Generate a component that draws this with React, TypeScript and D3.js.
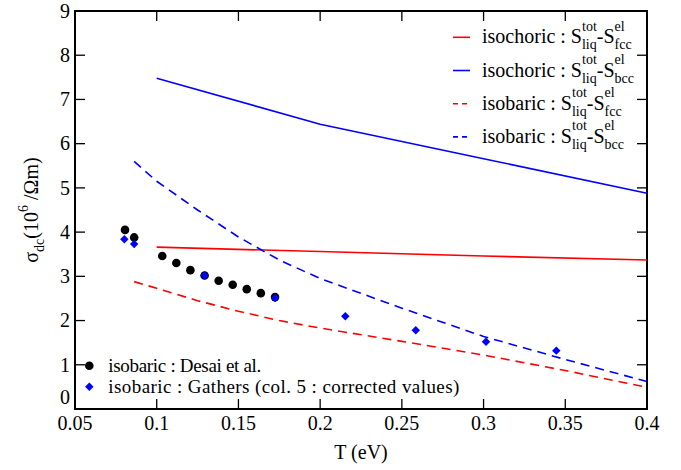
import React from 'react';
import * as d3 from 'd3';

// conductivity vs temperature
const tempDesai = [0.0806, 0.0862, 0.1034, 0.112, 0.1206, 0.1293, 0.1379, 0.1465, 0.1551, 0.1637, 0.1724];
const sigmaDesai = [4.05, 3.88, 3.46, 3.3, 3.14, 3.02, 2.9, 2.81, 2.71, 2.62, 2.53];

const tempGathers = [0.0802, 0.0862, 0.1293, 0.1724, 0.2154, 0.2585, 0.3015, 0.3445];
const sigmaGathers = [3.84, 3.73, 3.02, 2.51, 2.1, 1.78, 1.52, 1.32];

const tempIsochoric = [0.1, 0.2, 0.3, 0.4];
const sigmaIsochoricFcc = [3.66, 3.56, 3.46, 3.37];
const sigmaIsochoricBcc = [7.48, 6.44, 5.66, 4.88];

const tempIsobaric = [0.0862, 0.1, 0.125, 0.15, 0.175, 0.2, 0.25, 0.3, 0.35, 0.4];
const sigmaIsobaricFcc = [2.88, 2.73, 2.45, 2.21, 2.0, 1.83, 1.53, 1.22, 0.87, 0.49];
const sigmaIsobaricBcc = [5.6, 5.15, 4.5, 3.89, 3.37, 2.95, 2.28, 1.64, 1.12, 0.62];

const xTicks = [0.05, 0.1, 0.15, 0.2, 0.25, 0.3, 0.35, 0.4];
const yTicks = [0, 1, 2, 3, 4, 5, 6, 7, 8, 9];

const lineLegend = [
  { kind: 'isochoric', phase: 'fcc', color: '#ff0000', dashed: false },
  { kind: 'isochoric', phase: 'bcc', color: '#0000ff', dashed: false },
  { kind: 'isobaric', phase: 'fcc', color: '#ff0000', dashed: true },
  { kind: 'isobaric', phase: 'bcc', color: '#0000ff', dashed: true },
];

const FONT = 'Liberation Serif';

const left = 75, right = 647, top = 11, bottom = 409;
const TICK = 10;

const x = d3.scaleLinear().domain([0.05, 0.4]).range([left, right]);
const y = d3.scaleLinear().domain([0, 9]).range([bottom, top]);
const fmtX = d3.format('~g');

const line = d3.line<[number, number]>().x(d => x(d[0])).y(d => y(d[1]));
const diamond = d3.symbol().type(d3.symbolSquare).size(36)();

const curves = [
  { t: tempIsochoric, s: sigmaIsochoricFcc, color: '#ff0000', dashed: false },
  { t: tempIsochoric, s: sigmaIsochoricBcc, color: '#0000ff', dashed: false },
  { t: tempIsobaric, s: sigmaIsobaricFcc, color: '#ff0000', dashed: true },
  { t: tempIsobaric, s: sigmaIsobaricBcc, color: '#0000ff', dashed: true },
];

const App = () => {
  const txt = { fontFamily: FONT };
  return (
    <svg width={681} height={470} style={{ position: 'absolute', left: 0, top: 0 }}>
      {/* ticks on all four sides, pointing inward */}
      <g stroke="#000" strokeWidth={1.3}>
        {xTicks.map(t => (
          <g key={'xt' + t}>
            <line x1={x(t)} x2={x(t)} y1={bottom} y2={bottom - TICK} />
            <line x1={x(t)} x2={x(t)} y1={top} y2={top + TICK} />
          </g>
        ))}
        {yTicks.map(v => (
          <g key={'yt' + v}>
            <line x1={left} x2={left + TICK} y1={y(v)} y2={y(v)} />
            <line x1={right} x2={right - TICK} y1={y(v)} y2={y(v)} />
          </g>
        ))}
      </g>
      {xTicks.map(t => (
        <text key={'xl' + t} x={x(t)} y={430} textAnchor="middle" fontSize={20} fontFamily={FONT} style={txt}>
          {fmtX(t)}
        </text>
      ))}
      {yTicks.map(v => (
        <text
          key={'yl' + v}
          x={70}
          y={y(v) + (v === 0 ? -11.5 : 0) + 6.8}
          textAnchor="end"
          fontSize={20}
          fontFamily={FONT}
          style={txt}
        >
          {v}
        </text>
      ))}
      <rect x={left} y={top} width={right - left} height={bottom - top} fill="none" stroke="#000" strokeWidth={2} />

      {curves.map((c, i) => (
        <path
          key={'c' + i}
          d={line(c.t.map((t, j) => [t, c.s[j]] as [number, number])) || ''}
          fill="none"
          stroke={c.color}
          strokeWidth={1.6}
          strokeDasharray={c.dashed ? '9,6' : undefined}
        />
      ))}

      {/* Desai et al. circles, Gathers diamonds on top */}
      {tempDesai.map((t, i) => (
        <circle key={'d' + i} cx={x(t)} cy={y(sigmaDesai[i])} r={4.3} fill="#000" />
      ))}
      {tempGathers.map((t, i) => (
        <path
          key={'g' + i}
          d={diamond || ''}
          transform={`translate(${x(t)},${y(sigmaGathers[i])}) rotate(45)`}
          fill="#0000ff"
        />
      ))}

      {/* top-right legend */}
      {lineLegend.map((e, i) => {
        const ly = 37.3 + i * 33.2;
        return (
          <g key={'lg' + i}>
            <line
              x1={453}
              x2={470}
              y1={ly}
              y2={ly}
              stroke={e.color}
              strokeWidth={1.6}
              strokeDasharray={e.dashed ? '5,4' : undefined}
            />
            <text x={482} y={ly + 6} fontSize={20} fontFamily={FONT} style={txt}>
              <tspan>{`${e.kind} : S`}</tspan>
              <tspan fontSize={14} dy={-12.5}>tot</tspan>
              <tspan fontSize={14} dx={-14.8} dy={18.5}>liq</tspan>
              <tspan dy={-6}>-S</tspan>
              <tspan fontSize={14} dy={-12.5}>el</tspan>
              <tspan fontSize={14} dx={-10.1} dy={18.5}>{e.phase}</tspan>
            </text>
          </g>
        );
      })}

      {/* bottom-left legend */}
      <circle cx={89.3} cy={365.7} r={4.3} fill="#000" />
      <path d={diamond || ''} transform="translate(89.3,386.7) rotate(45)" fill="#0000ff" />
      <text
        x={108.3}
        y={372}
        fontSize={19}
        fontFamily={FONT}
        style={txt}
        textLength={153}
        lengthAdjust="spacing"
      >
        isobaric : Desai et al.
      </text>
      <text
        x={108.3}
        y={392.5}
        fontSize={19}
        fontFamily={FONT}
        style={txt}
        textLength={351}
        lengthAdjust="spacing"
      >
        isobaric : Gathers (col. 5 : corrected values)
      </text>

      {/* axis titles */}
      <text x={(left + right) / 2} y={459} textAnchor="middle" fontSize={20} fontFamily={FONT} style={txt}>
        T (eV)
      </text>
      <text
        transform={`translate(38,${(top + bottom) / 2}) rotate(-90)`}
        textAnchor="middle"
        fontSize={20}
        fontFamily={FONT}
        style={txt}
      >
        <tspan>σ</tspan>
        <tspan fontSize={14} dy={6}>dc</tspan>
        <tspan dy={-6}>(10</tspan>
        <tspan fontSize={14} dy={-10}>6</tspan>
        <tspan dy={10}> /Ωm)</tspan>
      </text>
    </svg>
  );
};

export default App;
